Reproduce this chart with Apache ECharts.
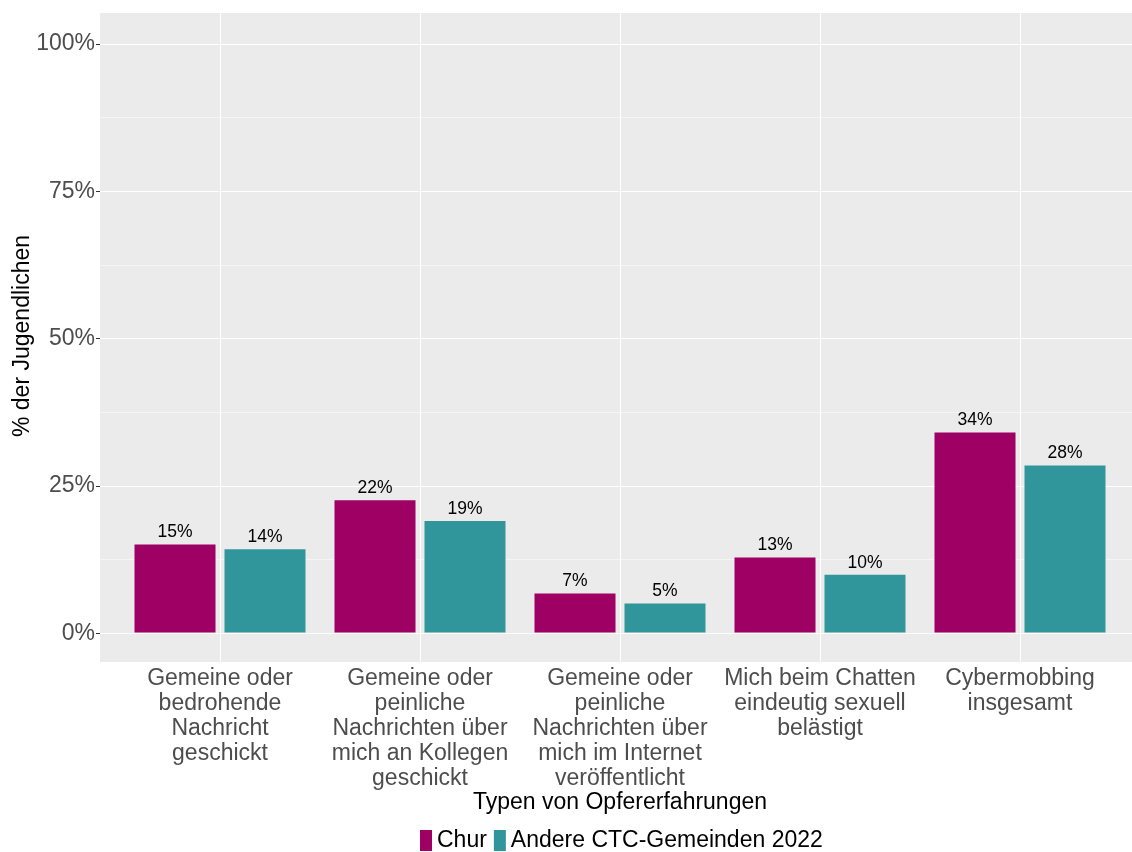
<!DOCTYPE html>
<html>
<head>
<meta charset="utf-8">
<script src="https://cdn.jsdelivr.net/npm/echarts@6/dist/echarts.min.js"></script>
<style>
html,body{margin:0;padding:0;background:#fff;}
#chart{width:1132px;height:852px;}
</style>
</head>
<body>
<div id="chart"></div>
<script>
const categories = [
  "Gemeine oder\nbedrohende\nNachricht\ngeschickt",
  "Gemeine oder\npeinliche\nNachrichten über\nmich an Kollegen\ngeschickt",
  "Gemeine oder\npeinliche\nNachrichten über\nmich im Internet\nveröffentlicht",
  "Mich beim Chatten\neindeutig sexuell\nbelästigt",
  "Cybermobbing\ninsgesamt"
];
const seriesNames = ["Chur", "Andere CTC-Gemeinden 2022"];
const churValues = [14.9, 22.4, 6.6, 12.7, 33.9];
const otherValues = [14.1, 18.9, 4.9, 9.8, 28.3];
const yTicks = [0, 25, 50, 75, 100];
const xTitle = "Typen von Opfererfahrungen";
const yTitle = "% der Jugendlichen";

const FONT = "'Liberation Sans', Arial, sans-serif";
const colors = ["#9E0064", "#31969B"];

const chart = echarts.init(document.getElementById('chart'), null, {renderer: 'canvas'});

const barLabel = {
  show: true, position: 'top', distance: 3,
  fontFamily: FONT, fontSize: 17.5, color: '#000',
  formatter: p => Math.round(p.value) + '%'
};

const option = {
  backgroundColor: '#fff',
  animation: false,
  grid: [
    {left: 100, right: 0, top: 13, bottom: 190, show: true, backgroundColor: '#EBEBEB', borderWidth: 0},
    {left: 100, right: 0, top: 44, bottom: 218.6, show: false},
    {left: 120, width: 1000, top: 13, bottom: 190, show: false}
  ],
  xAxis: [
    {gridIndex: 0, type: 'value', show: false, min: 0, max: 1},
    {gridIndex: 1, type: 'value', show: false, min: 0, max: 1},
    {gridIndex: 2, type: 'category', data: categories,
     axisLine: {show: false},
     axisTick: {show: true, alignWithLabel: true, length: 4, lineStyle: {color: '#333', width: 1}},
     axisLabel: {interval: 0, margin: 4, fontFamily: FONT, fontSize: 23, lineHeight: 25, color: '#4D4D4D', align: 'center'},
     splitLine: {show: false}}
  ],
  yAxis: [
    {gridIndex: 0, type: 'value', show: false, min: 0, max: 1},
    {gridIndex: 1, type: 'value', min: yTicks[0], max: yTicks[yTicks.length - 1], interval: 25,
     axisLine: {show: false},
     axisTick: {show: true, length: 4, lineStyle: {color: '#333', width: 1}},
     axisLabel: {margin: 5, fontFamily: FONT, fontSize: 23, color: '#4D4D4D', formatter: '{value}%'},
     splitLine: {show: true, lineStyle: {color: '#fff', width: 1.1}},
     minorTick: {show: false, splitNumber: 2},
     minorSplitLine: {show: true, lineStyle: {color: '#fff', width: 0.5}}},
    {gridIndex: 2, type: 'value', show: false, min: -5, max: 105}
  ],
  legend: {
    data: seriesNames,
    left: 420, top: 829, padding: 0,
    itemWidth: 12, itemHeight: 21, itemGap: 7,
    icon: 'rect',
    textStyle: {fontFamily: FONT, fontSize: 23, color: '#000', lineHeight: 21, padding: [0, 0, 0, 0]},
    selectedMode: false
  },
  graphic: [
    {type: 'text', x: 620, y: 803,
     style: {text: xTitle, fontFamily: FONT, fontSize: 23, fill: '#000', align: 'center', verticalAlign: 'middle'}},
    {type: 'text', x: 23, y: 336, rotation: Math.PI / 2,
     style: {text: yTitle, fontFamily: FONT, fontSize: 23, fill: '#000', align: 'center', verticalAlign: 'middle'}}
  ],
  series: [
    {name: 'vgrid', type: 'scatter', xAxisIndex: 2, yAxisIndex: 2, data: [], silent: true,
     markLine: {silent: true, symbol: 'none', label: {show: false},
       lineStyle: {color: '#fff', width: 1.1, type: 'solid'},
       emphasis: {disabled: true},
       data: categories.map((c, i) => ({xAxis: i}))}},
    {name: seriesNames[0], type: 'bar', xAxisIndex: 2, yAxisIndex: 2, data: churValues,
     barWidth: 81, barGap: '11.1%', itemStyle: {color: colors[0]}, label: barLabel},
    {name: seriesNames[1], type: 'bar', xAxisIndex: 2, yAxisIndex: 2, data: otherValues,
     barWidth: 81, barGap: '11.1%', itemStyle: {color: colors[1]}, label: barLabel}
  ]
};
chart.setOption(option);
</script>
</body>
</html>
